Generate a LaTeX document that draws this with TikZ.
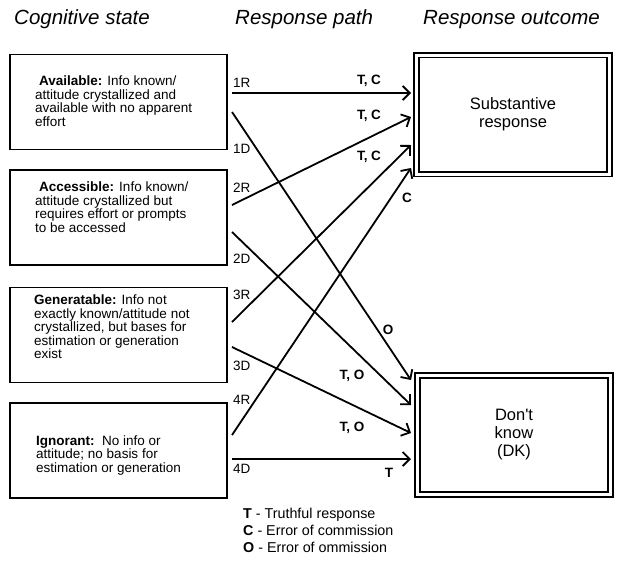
\documentclass[tikz,border=0pt]{standalone}
\usepackage{fontspec}
\setmainfont{Liberation Sans}
\usepackage{tikz}
\usetikzlibrary{
  arrows.meta,
  positioning
}

\begin{document}
\begin{tikzpicture}[
  x=1pt, y=-1pt,
  heading/.style={font=\fontsize{20.5}{24}\selectfont\itshape,
                  anchor=base west, inner sep=0pt},
  state/.style={draw, line width=1.6pt, minimum width=217pt,
                minimum height=95pt, inner sep=0pt},
  desc/.style={font=\fontsize{13.5}{13.5}\selectfont, align=left,
               anchor=west, inner sep=0pt},
  outcome/.style={draw, line width=1.8pt, double=white,
                  double distance=3pt, minimum width=193pt,
                  minimum height=119pt, align=center,
                  font=\fontsize{16.5}{18}\selectfont},
  pathlbl/.style={font=\fontsize{13.5}{14}\selectfont, anchor=west,
                  inner sep=0pt},
  res/.style={font=\fontsize{13.5}{14}\selectfont\bfseries, inner sep=0pt},
  arrow/.style={-{Straight Barb[length=7pt, width=14pt]}, line width=1.8pt},
]
  \useasboundingbox (0,0) rectangle (618,563);

  % Column headings
  \node[heading] (hstate) at (14, 24) {Cognitive state};
  \node[heading] (hpath) at (235, 24) {Response path};
  \node[heading] (hout) at (423, 24) {Response outcome};

  % Cognitive states
  \node[state] (avail) at (118.5, 102) {};
  \node[state] (access) at (118.5, 217.5) {};
  \node[state] (gener) at (118.5, 335) {};
  \node[state] (ignor) at (118.5, 450.5) {};

  \node[desc] (availtxt) at (35, 101) {\hspace*{4pt}\textbf{Available:} Info known/\\
    attitude crystallized and\\available with no apparent\\effort};
  \node[desc] (accesstxt) at (35, 207) {\hspace*{4pt}\textbf{Accessible:} Info known/\\
    attitude crystallized but\\requires effort or prompts\\to be accessed};
  \node[desc] (genertxt) at (34, 327) {\textbf{Generatable:} Info not\\
    exactly known/attitude not\\crystallized, but bases for\\estimation or generation\\exist};
  \node[desc] (ignortxt) at (36, 455) {\textbf{Ignorant:}\ \ No info or\\
    attitude; no basis for\\estimation or generation};

  % Response outcomes
  \node[outcome] (subst) at (513, 114.5) {Substantive\\response};
  \node[outcome] (dk) at (514, 435) {Don\textquotesingle t\\know\\(DK)};

  % Response paths
  \foreach \n/\ys/\ye in {1R/93/93, 2R/205/117, 3R/322/145, 4R/435/168,
                          1D/112/380, 2D/232/405, 3D/347/433, 4D/459/459} {
    \coordinate (s\n) at (232, \ys);
    \coordinate (e\n) at (411, \ye);
    \draw[arrow] (s\n) -- (e\n);
  }
  \foreach \n/\y in {1R/83, 1D/149, 2R/188, 2D/259, 3R/295, 3D/366, 4R/400, 4D/469} {
    \node[pathlbl] (lbl\n) at (233, \y) {\n};
  }

  % Outcome codes
  \node[res] (r1) at (369, 81) {T, C};
  \node[res] (r2) at (369, 116) {T, C};
  \node[res] (r3) at (369, 157) {T, C};
  \node[res] (r4) at (407, 198) {C};
  \node[res] (r5) at (388, 330) {O};
  \node[res] (r6) at (352, 376) {T, O};
  \node[res] (r7) at (352, 428) {T, O};
  \node[res] (r8) at (389, 473) {T};

  % Legend
  \node[font=\fontsize{14.3}{17}\selectfont, align=left, anchor=west,
        inner sep=0pt] (legend) at (243, 530)
    {\textbf{T} - Truthful response\\\textbf{C} - Error of commission\\
     \textbf{O} - Error of ommission};

\end{tikzpicture}
\end{document}
